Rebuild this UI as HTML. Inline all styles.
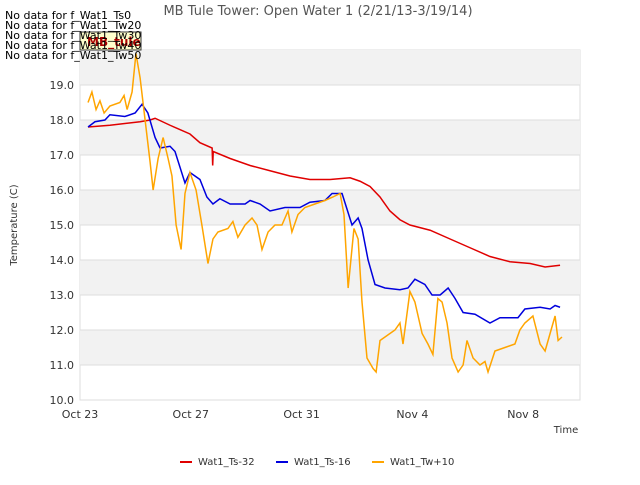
<!DOCTYPE html>
<html><head><meta charset="utf-8"><style>
body{margin:0;background:#fff;font-family:"Liberation Sans","DejaVu Sans",sans-serif;}
svg text{font-family:"DejaVu Sans","Liberation Sans",sans-serif;}
</style></head><body>
<svg id="c" width="640" height="480"></svg>
<script>
const yTicks=[10,11,12,13,14,15,16,17,18,19];
const xTickDays=[0,4,8,12,16];
const xTickLabels=["Oct 23","Oct 27","Oct 31","Nov 4","Nov 8"];
const redT=[0.29,1.08,2.17,2.53,2.71,3.25,3.97,4.33,4.77,4.79,4.81,5.42,6.14,6.86,7.58,8.3,9.03,9.75,10.11,10.47,10.83,11.19,11.55,11.91,12.64,13.36,14.08,14.8,15.52,16.25,16.79,17.33];
const redV=[17.8,17.85,17.95,18.0,18.05,17.85,17.6,17.35,17.2,16.7,17.1,16.9,16.7,16.55,16.4,16.3,16.3,16.35,16.25,16.1,15.8,15.4,15.15,15.0,14.85,14.6,14.35,14.1,13.95,13.9,13.8,13.85];
const blueT=[0.29,0.54,0.9,1.08,1.62,1.99,2.24,2.45,2.71,2.89,3.25,3.43,3.79,3.97,4.33,4.58,4.8,5.05,5.42,5.96,6.14,6.5,6.86,7.4,7.94,8.3,8.84,9.1,9.46,9.82,10.04,10.18,10.4,10.65,11.01,11.55,11.84,12.09,12.45,12.71,13.0,13.29,13.54,13.83,14.26,14.8,15.16,15.81,16.06,16.61,16.97,17.15,17.33];
const blueV=[17.8,17.95,18.0,18.15,18.1,18.2,18.45,18.2,17.5,17.2,17.25,17.1,16.2,16.5,16.3,15.8,15.6,15.75,15.6,15.6,15.7,15.6,15.4,15.5,15.5,15.65,15.7,15.9,15.9,15.0,15.2,14.9,14.0,13.3,13.2,13.15,13.2,13.45,13.3,13.0,13.0,13.2,12.9,12.5,12.45,12.2,12.35,12.35,12.6,12.65,12.6,12.7,12.65];
const orT=[0.29,0.43,0.58,0.72,0.87,1.08,1.44,1.59,1.7,1.88,2.02,2.17,2.35,2.53,2.64,2.82,3.0,3.18,3.32,3.47,3.65,3.79,3.97,4.19,4.4,4.62,4.8,4.98,5.34,5.52,5.7,5.96,6.21,6.39,6.57,6.79,7.04,7.29,7.51,7.65,7.87,8.12,8.48,8.84,9.13,9.39,9.53,9.68,9.89,10.04,10.18,10.36,10.58,10.69,10.83,11.01,11.37,11.55,11.66,11.91,12.09,12.35,12.56,12.74,12.92,13.07,13.25,13.43,13.65,13.83,13.97,14.19,14.44,14.62,14.73,14.98,15.34,15.7,15.88,16.06,16.35,16.61,16.79,16.97,17.15,17.26,17.4];
const orV=[18.5,18.8,18.3,18.55,18.2,18.4,18.5,18.7,18.3,18.8,19.9,19.2,18.0,16.8,16.0,16.9,17.5,16.9,16.4,15.0,14.3,15.9,16.5,16.0,15.0,13.9,14.6,14.8,14.9,15.1,14.65,15.0,15.2,15.0,14.3,14.8,15.0,15.0,15.4,14.8,15.3,15.5,15.6,15.7,15.8,15.9,15.3,13.2,14.9,14.6,12.8,11.2,10.9,10.8,11.7,11.8,12.0,12.2,11.6,13.1,12.8,11.9,11.6,11.3,12.9,12.8,12.2,11.2,10.8,11.0,11.7,11.2,11.0,11.1,10.8,11.4,11.5,11.6,12.0,12.2,12.4,11.6,11.4,11.9,12.4,11.7,11.8];
const L=80,R=580,T=50,B=400;
const X=d=>L+d*(R-L)/18.05, Y=v=>B-(v-10)*(B-T)/10;
const s=document.getElementById('c'),NS="http://www.w3.org/2000/svg";
function mk(tag,a,txt){const e=document.createElementNS(NS,tag);for(const k in a)e.setAttribute(k,a[k]);if(txt!=null)e.textContent=txt;s.appendChild(e);return e;}
let bg=mk('rect',{x:L,y:T,width:R-L,height:B-T,fill:'#fff',stroke:'#ddd'});


for(let v=10;v<20;v+=2){let b=mk('rect',{x:L,y:Y(v+2),width:R-L,height:Y(v+1)-Y(v+2),fill:'#f2f2f2'});

}
yTicks.forEach(v=>{let g=mk('line',{x1:L,x2:R,y1:Y(v),y2:Y(v),stroke:'#ddd'});


let t=mk('text',{x:L-6,y:Y(v)+4,'text-anchor':'end','font-size':11,fill:'#333'},v.toFixed(1));

});
xTickDays.forEach((d,i)=>{let t=mk('text',{x:X(d),y:B+18,'text-anchor':'middle','font-size':11,fill:'#333'},xTickLabels[i]);

});
function line(ts,vs,col,name){let p=mk('polyline',{points:ts.map((t,i)=>X(t)+','+Y(vs[i])).join(' '),fill:'none',stroke:col,'stroke-width':1.5});

}
line(redT,redV,'#e00000','series-ts-32');
line(blueT,blueV,'#0000dd','series-ts-16');
line(orT,orV,'#ffa500','series-tw10');
let tt=mk('text',{x:318,y:15,'text-anchor':'middle','font-size':13,fill:'#555'},'MB Tule Tower: Open Water 1 (2/21/13-3/19/14)');


let yl=mk('text',{x:17,y:225,'text-anchor':'middle','font-size':10,fill:'#333',transform:'rotate(-90 17 225)'},'Temperature (C)');


let xl=mk('text',{x:566,y:433,'text-anchor':'middle','font-size':10,fill:'#333'},'Time');


let tb=mk('rect',{x:80,y:32,width:61,height:18,fill:'#ffffcc',stroke:'#333'});


let tbt=mk('text',{x:87,y:46,'font-size':12,fill:'#aa0000','font-weight':'bold'},'MB_tule');


["No data for f_Wat1_Ts0","No data for f_Wat1_Tw20","No data for f_Wat1_Tw30","No data for f_Wat1_Tw40","No data for f_Wat1_Tw50"].forEach((m,i)=>{let t=mk('text',{x:5,y:19+i*10,'font-size':11,fill:'#000'},m);

});
[["Wat1_Ts-32",'#e00000',180],["Wat1_Ts-16",'#0000dd',276],["Wat1_Tw+10",'#ffa500',372]].forEach(e=>{let l=mk('line',{x1:e[2],x2:e[2]+12,y1:462,y2:462,stroke:e[1],'stroke-width':2});


let t=mk('text',{x:e[2]+18,y:465,'font-size':10,fill:'#333'},e[0]);

});
</script>
</body></html>
